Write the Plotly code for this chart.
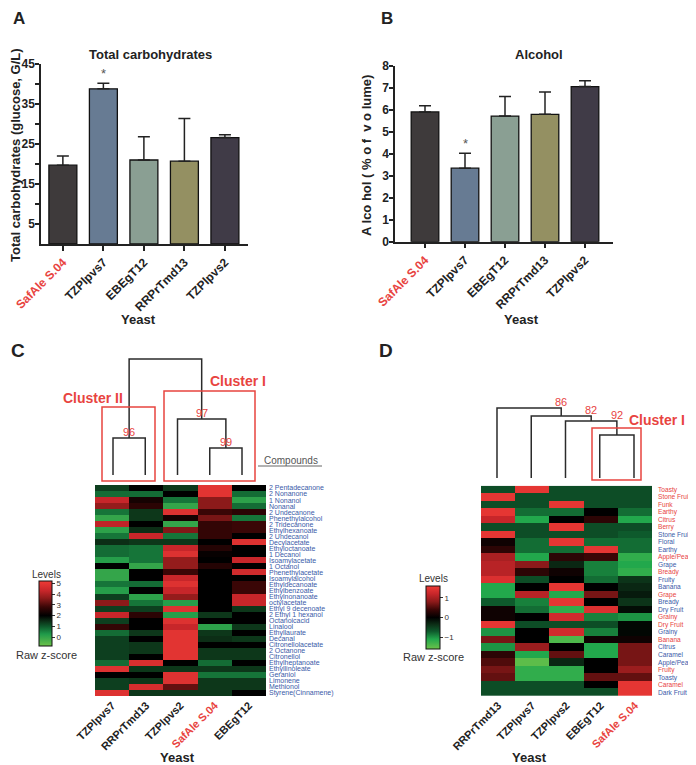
import plotly.graph_objects as go

# The page body has an 8px margin, so the figure is sized to fit the window after it
OFF = 8
W, H = 696 - OFF, 765 - OFF
F = "Liberation Sans, Arial, sans-serif"
RED = "#e8443f"
BLUE = "#3a5aa8"
INK = "#222222"


def px(x):
    return (x - OFF) / W


def py(y):
    return 1 - (y - OFF) / H


# ---------------- data ----------------
yeast_bar = ["SafAle S.04", "TZPlpvs7", "EBEgT12", "RRPrTmd13", "TZPlpvs2"]
carb_values = [19.7, 38.8, 21.0, 20.7, 26.6]
carb_err = [2.3, 1.4, 5.8, 10.7, 0.7]
alc_values = [5.9, 3.34, 5.71, 5.79, 7.05]
alc_err = [0.28, 0.68, 0.89, 1.01, 0.27]
bar_colors = ["#3e3a3b", "#677b93", "#8a9f93", "#949062", "#403b47"]

yeast_C = ["TZPlpvs7", "RRPrTmd13", "TZPlpvs2", "SafAle S.04", "EBEgT12"]
compounds = ["2 Pentadecanone", "2 Nonanone", "1 Nonanol", "Nonanal", "2 Undecanone",
             "Phenethylalcohol", "2 Tridecanone", "Ethylhexanoate", "2 Undecanol",
             "Decylacetate", "Ethyloctanoate", "1 Decanol", "Isoamylacetate", "1 Octanol",
             "Phenethylacetate", "Isoamylalcohol", "Ethyldecanoate", "Ethylbenzoate",
             "Ethylnonanoate", "octylacetate", "Ethyl 9 decenoate", "2 Ethyl 1 hexanol",
             "Octanoicacid", "Linalool", "Ethyllaurate", "Decanal", "Citronellolacetate",
             "2 Octanone", "Citronellol", "Ethylheptanoate", "Ethyllinoleate", "Geraniol",
             "Limonene", "Methionol", "Styrene(Cinnamene)"]
c_TZPlpvs7 = [1.3, 0.8, 4.3, 3.7, 0.7, 0.0, 4.2, 0.1, 0.7, 1.5, 0.8, 0.8, 0.2, 2.0, 0.0, 0.0,
              0.7, 0.2, 1.3, 3.6, 1.3, 4.3, 1.3, 2.7, 0.8, 1.3, 1.3, 1.3, 1.3, 0.8, 4.8, 2.0,
              1.3, 1.3, 4.8]
c_RRPrTmd13 = [2.0, 0.8, 2.3, 2.6, 1.4, 1.4, 2.0, 1.5, 4.3, 1.4, 0.7, 0.7, 0.7, 0.0, 2.0, 2.0,
               0.8, 2.0, 0.1, 0.7, 1.3, 2.6, 2.0, 2.0, 1.4, 2.0, 1.4, 1.4, 2.0, 4.7, 1.4, 2.0,
               1.4, 4.6, 1.4]
c_TZPlpvs2 = [1.4, 2.0, 0.7, 0.0, 4.8, 2.3, 0.0, 3.5, 0.7, 1.4, 4.3, 4.8, 3.7, 3.7, 2.8, 4.3,
              4.8, 4.3, 3.7, 0.2, 4.8, 0.2, 4.8, 4.3, 4.9, 4.9, 4.9, 4.9, 4.9, 2.0, 1.4, 4.8,
              4.8, 3.2, 1.4]
c_SafAle = [4.9, 4.9, 3.6, 3.6, 2.8, 3.4, 2.7, 2.7, 2.7, 2.0, 2.5, 2.1, 2.0, 2.5, 2.0, 2.0,
            2.0, 2.0, 2.0, 2.0, 2.0, 1.4, 2.0, 0.1, 1.4, 1.5, 2.0, 1.4, 1.4, 0.8, 1.4, 0.7,
            1.4, 1.4, 1.4]
c_EBEgT12 = [2.0, 0.8, 0.1, 0.8, 2.6, 0.7, 2.8, 2.8, 2.0, 4.8, 2.0, 2.0, 4.3, 2.0, 4.5, 2.0,
             2.8, 2.8, 4.3, 4.3, 1.4, 2.0, 2.0, 1.4, 2.0, 1.4, 2.0, 1.4, 1.4, 2.0, 1.4, 0.7,
             1.4, 1.4, 2.0]
c_ticks = [0, 1, 2, 3, 4, 5]

yeast_D = ["RRPrTmd13", "TZPlpvs7", "TZPlpvs2", "EBEgT12", "SafAle S.04"]
attributes = ["Toasty", "Stone Fruit", "Funk", "Earthy", "Citrus", "Berry", "Stone Fruit",
              "Floral", "Earthy", "Apple/Pear", "Grape", "Bready", "Fruity", "Banana",
              "Grape", "Bready", "Dry Fruit", "Grainy", "Dry Fruit", "Grainy", "Banana",
              "Citrus", "Caramel", "Apple/Pear", "Fruity", "Toasty", "Caramel", "Dark Fruit"]
attribute_red = [1, 1, 1, 1, 1, 1, 0, 0, 0, 1, 0, 1, 0, 0, 1, 0, 0, 1, 1, 0, 1, 0, 0, 0, 1,
                 0, 1, 0]
d_RRPrTmd13 = [-0.6, 1.5, -0.6, 1.5, 1.2, -0.6, 1.5, 0.1, 0.3, 1.0, 1.1, 1.1, 1.4, -1.1,
               -1.1, -0.7, 0.1, 0.1, 1.5, -1.0, 0.7, -1.0, 0.3, 0.5, 0.7, 0.6, -0.6, -0.6]
d_TZPlpvs7 = [1.5, -0.6, -0.6, -0.8, -1.1, -0.6, -0.6, -0.8, -0.8, -1.1, 0.8, 0.3, -0.6, 0.0,
              1.1, -0.9, -0.8, 0.0, -0.6, 0.0, 0.0, 0.9, -1.1, -1.5, -1.2, -1.2, -0.6, -0.6]
d_TZPlpvs2 = [-0.6, -0.6, 1.5, -0.8, 0.0, 1.5, -0.6, 1.5, -0.8, 0.3, -0.3, 0.1, 0.0, 1.5,
              -1.1, 1.5, -1.2, 1.3, -0.6, 1.3, -1.4, 0.0, 0.6, -0.3, -1.2, -1.2, -0.6, -0.6]
d_EBEgT12 = [-0.6, -0.6, -0.6, 0.0, 0.3, -0.6, -0.6, -0.8, 1.5, 0.4, -0.9, -0.9, -0.8, 0.0,
             0.7, 0.0, 1.4, -0.9, -0.6, -0.9, 0.1, -1.1, -1.1, 0.0, 0.0, 0.6, 0.0, -0.6]
d_SafAle = [-0.6, -0.6, -0.6, -0.8, -1.1, -0.6, -0.7, -0.8, -0.8, -1.2, -1.1, -1.2, -0.4,
            -0.3, -0.2, -0.4, -0.1, -1.0, -0.05, -0.05, 0.1, 0.7, 0.7, 0.7, 0.9, 0.6, 1.5, 1.5]
d_ticks = [-1, 0, 1]

# dendrograms: (cluster a, cluster b, merge height); leaves are 0..4
merges_C = [(0, 1, 37), (3, 4, 27), (2, 6, 56), (5, 7, 116)]
support_C = ["96", "99", "97", ""]
merges_D = [(3, 4, 43), (2, 5, 57), (1, 6, 62), (0, 7, 70)]
support_D = ["", "92", "82", "86"]


def dendro(n, merges):
    pos = list(range(n))
    hgt = [0] * n
    xs, ys, nodes = [], [], []
    for a, b, h in merges:
        xs += [pos[a], pos[a], pos[b], pos[b], None]
        ys += [hgt[a], h, h, hgt[b], None]
        nodes.append(((pos[a] + pos[b]) / 2, pos[b], h))
        pos.append((pos[a] + pos[b]) / 2)
        hgt.append(h)
    return xs, ys, nodes


def lab(name, color=INK):
    c = RED if name.startswith("SafAle") else color
    return f'<span style="color:{c}">{name}</span>'


fig = go.Figure()

# ---- Panel A / B bars ----
for vals, errs, xa, ya in [(carb_values, carb_err, "x", "y"), (alc_values, alc_err, "x2", "y2")]:
    fig.add_trace(go.Bar(
        x=list(range(len(yeast_bar))), y=vals, width=0.69,
        marker=dict(color=bar_colors, line=dict(color="#111", width=1.3)),
        error_y=dict(type="data", array=errs, arrayminus=[0] * len(errs), symmetric=False,
                     color="#222", thickness=1.5, width=6),
        xaxis=xa, yaxis=ya, showlegend=False, hoverinfo="skip"))

# ---- Panel C heatmap ----
zC = [list(r) for r in zip(c_TZPlpvs7, c_RRPrTmd13, c_TZPlpvs2, c_SafAle, c_EBEgT12)]
scaleC = [[0.0, "#6cc24a"], [0.183, "#1f9a4a"], [0.30, "#0f5a2c"], [0.383, "#0c2e16"],
          [0.467, "#000000"], [0.60, "#3a0606"], [0.733, "#8c1a1a"], [0.85, "#c7262a"],
          [1.0, "#ef3b36"]]
fig.add_trace(go.Heatmap(
    z=zC, x=list(range(5)), y=list(range(len(compounds))), zmin=-0.8, zmax=5.2,
    colorscale=scaleC, xaxis="x3", yaxis="y3", hoverinfo="skip",
    colorbar=dict(x=px(39), xanchor="left", xpad=0, y=py(581), yanchor="top", ypad=0,
                  len=65, lenmode="pixels", thickness=13, thicknessmode="pixels",
                  outlinewidth=1, outlinecolor="#111", tickvals=c_ticks,
                  ticks="outside", ticklen=3, tickcolor="#333",
                  tickfont=dict(size=8, family=F, color="#333"))))

# ---- Panel D heatmap ----
zD = [list(r) for r in zip(d_RRPrTmd13, d_TZPlpvs7, d_TZPlpvs2, d_EBEgT12, d_SafAle)]
scaleD = [[0.0, "#6cc24a"], [0.156, "#22a84c"], [0.281, "#0e5a2c"], [0.39, "#0c2e16"],
          [0.5, "#000000"], [0.625, "#3a0606"], [0.75, "#8c1a1a"], [0.875, "#c7262a"],
          [1.0, "#ef3b36"]]
fig.add_trace(go.Heatmap(
    z=zD, x=list(range(5)), y=list(range(len(attributes))), zmin=-1.6, zmax=1.6,
    colorscale=scaleD, xaxis="x5", yaxis="y5", hoverinfo="skip",
    colorbar=dict(x=px(426), xanchor="left", xpad=0, y=py(586), yanchor="top", ypad=0,
                  len=63, lenmode="pixels", thickness=14, thicknessmode="pixels",
                  outlinewidth=1, outlinecolor="#111", tickvals=d_ticks,
                  ticks="outside", ticklen=3, tickcolor="#333",
                  tickfont=dict(size=8, family=F, color="#333"))))

# ---- dendrograms ----
xsC, ysC, nodesC = dendro(5, merges_C)
xsD, ysD, nodesD = dendro(5, merges_D)
fig.add_trace(go.Scatter(x=xsC, y=ysC, mode="lines", line=dict(color="#2b2b2b", width=1.5),
                         xaxis="x4", yaxis="y4", showlegend=False, hoverinfo="skip"))
fig.add_trace(go.Scatter(x=xsD, y=ysD, mode="lines", line=dict(color="#2b2b2b", width=1.5),
                         xaxis="x6", yaxis="y6", showlegend=False, hoverinfo="skip"))

bar_x = dict(showline=True, linecolor=INK, linewidth=1.5, ticks="outside", ticklen=5,
             tickwidth=1.5, tickcolor=INK, showgrid=False, zeroline=False,
             tickvals=list(range(5)), ticktext=[lab(n) for n in yeast_bar], tickangle=-45,
             tickfont=dict(size=12, family=F, color=INK, weight="bold"))
bar_y = dict(showline=True, linecolor=INK, linewidth=1.5, ticks="outside", ticklen=4,
             tickwidth=1.5, tickcolor=INK, showgrid=False, zeroline=False,
             ticklabelstandoff=-2,
             tickfont=dict(size=12, family=F, color=INK, weight="bold"))
hm_x = dict(range=[-0.5, 4.5], tickvals=list(range(5)), tickangle=-45, showline=False,
            showgrid=False, zeroline=False, ticks="",
            tickfont=dict(size=11, family=F, color=INK, weight="bold"))
hidden = dict(visible=False, showgrid=False, zeroline=False)

fig.update_layout(
    width=W, height=H, margin=dict(l=0, r=0, t=0, b=0, autoexpand=False),
    paper_bgcolor="white", plot_bgcolor="rgba(0,0,0,0)",
    font=dict(family=F, color=INK), bargap=0.3,
    xaxis=dict(bar_x, domain=[px(41), px(248)], range=[-0.54, 4.57], anchor="y"),
    yaxis=dict(bar_y, domain=[py(244), py(64)], range=[0, 45], anchor="x",
               tickvals=[5, 15, 25, 35, 45],
               minor=dict(tickvals=[10, 20, 30, 40], ticks="outside", ticklen=4,
                          tickwidth=1.5, tickcolor=INK)),
    xaxis2=dict(bar_x, domain=[px(395), px(613)], range=[-0.75, 4.7], anchor="y2"),
    yaxis2=dict(bar_y, domain=[py(241.7), py(65.7)], range=[0, 8], anchor="x2", dtick=1),
    xaxis3=dict(hm_x, domain=[px(95), px(266)], anchor="y3",
                ticktext=[lab(n) for n in yeast_C]),
    yaxis3=dict(domain=[py(696), py(485)], range=[len(compounds) - 0.5, -0.5], anchor="x3",
                side="right", tickvals=list(range(len(compounds))), ticktext=compounds,
                tickfont=dict(size=7, family=F, color=BLUE), ticks="",
                ticklabelstandoff=2, showgrid=False, zeroline=False, showline=False),
    xaxis4=dict(hidden, domain=[px(113 - 16.125), px(242 + 16.125)], range=[-0.5, 4.5],
                anchor="y4"),
    yaxis4=dict(hidden, domain=[py(479), py(355)], range=[-4, 120], anchor="x4"),
    xaxis5=dict(hm_x, domain=[px(481), px(652)], anchor="y5",
                ticktext=[lab(n) for n in yeast_D]),
    yaxis5=dict(domain=[py(696), py(485.7)], range=[len(attributes) - 0.5, -0.5],
                anchor="x5", side="right", tickvals=list(range(len(attributes))),
                ticktext=[f'<span style="color:{RED if r else BLUE}">{a}</span>'
                          for a, r in zip(attributes, attribute_red)],
                tickfont=dict(size=6.6, family=F), ticks="", ticklabelstandoff=5,
                showgrid=False, zeroline=False, showline=False),
    xaxis6=dict(hidden, domain=[px(497 - 17.125), px(634 + 17.125)], range=[-0.5, 4.5],
                anchor="y6"),
    yaxis6=dict(hidden, domain=[py(482), py(404)], range=[-4, 74], anchor="x6"),
)

ann = []


def T(x, y, text, size=12, color=INK, bold=False, angle=0, xa="center", ya="middle",
      pad=1):
    ann.append(dict(x=px(x), y=py(y), xref="paper", yref="paper", text=text,
                    showarrow=False, textangle=angle, xanchor=xa, yanchor=ya, borderpad=pad,
                    font=dict(size=size, color=color, family=F,
                              weight="bold" if bold else "normal")))


# panel letters
T(19, OFF, "A", 17, bold=True, ya="top", pad=0)
T(387, OFF, "B", 17, bold=True, ya="top", pad=0)
T(18, 350, "C", 19, bold=True)
T(386, 350, "D", 19, bold=True)
# bar chart titles
T(150, 55, "Total carbohydrates", 13, bold=True)
T(539, 55, "Alcohol", 13, bold=True)
T(15, 155, "Total carbohydrates (glucose, G/L)", 13, bold=True, angle=-90)
T(367, 156, "A lco hol ( % o f  v o lume)", 13, bold=True, angle=-90)
T(138, 319, "Yeast", 13, bold=True)
T(521, 319, "Yeast", 13, bold=True)
T(177, 757, "Yeast", 13, bold=True)
T(529, 757, "Yeast", 13, bold=True)
# significance marks
ann.append(dict(x=1, y=carb_values[1] + carb_err[1], xref="x", yref="y", text="*",
                showarrow=False, yanchor="bottom", yshift=0,
                font=dict(size=13, color="#555", family=F)))
ann.append(dict(x=1, y=alc_values[1] + alc_err[1], xref="x2", yref="y2", text="*",
                showarrow=False, yanchor="bottom", yshift=0,
                font=dict(size=13, color="#555", family=F)))
# dendrogram support values (C: above each node centre; D: above the right branch)
for (cx, bx, nh), s in zip(nodesC, support_C):
    if s:
        ann.append(dict(x=cx, y=nh, xref="x4", yref="y4", text=s, showarrow=False,
                        yanchor="bottom", yshift=-2, font=dict(size=11, color=RED, family=F)))
for (cx, bx, nh), s in zip(nodesD, support_D):
    if s:
        ann.append(dict(x=bx, y=nh, xref="x6", yref="y6", text=s, showarrow=False,
                        yanchor="bottom", yshift=-2, font=dict(size=11, color=RED, family=F)))
T(93, 398, "Cluster II", 14, RED, bold=True)
T(238, 381, "Cluster I", 14, RED, bold=True)
T(657, 420, "Cluster I", 14, RED, bold=True)
T(291, 461, "Compounds", 10, "#555")
# colorbar captions
T(46, 574, "Levels", 10, "#333")
T(46, 655, "Raw z-score", 11, "#333")
T(433, 578, "Levels", 10, "#333")
T(433, 657, "Raw z-score", 11, "#333")

shapes = []
for x0, y0, x1, y1 in [(102, 407, 155, 481), (164, 391, 255, 481), (592, 428, 641, 480)]:
    shapes.append(dict(type="rect", xref="paper", yref="paper", x0=px(x0), x1=px(x1),
                       y0=py(y1), y1=py(y0), line=dict(color=RED, width=1.5)))
shapes.append(dict(type="line", xref="paper", yref="paper", x0=px(258), x1=px(322),
                   y0=py(466), y1=py(466), line=dict(color="#666", width=1)))

fig.update_layout(annotations=ann, shapes=shapes)
fig.write_html("out.html")
